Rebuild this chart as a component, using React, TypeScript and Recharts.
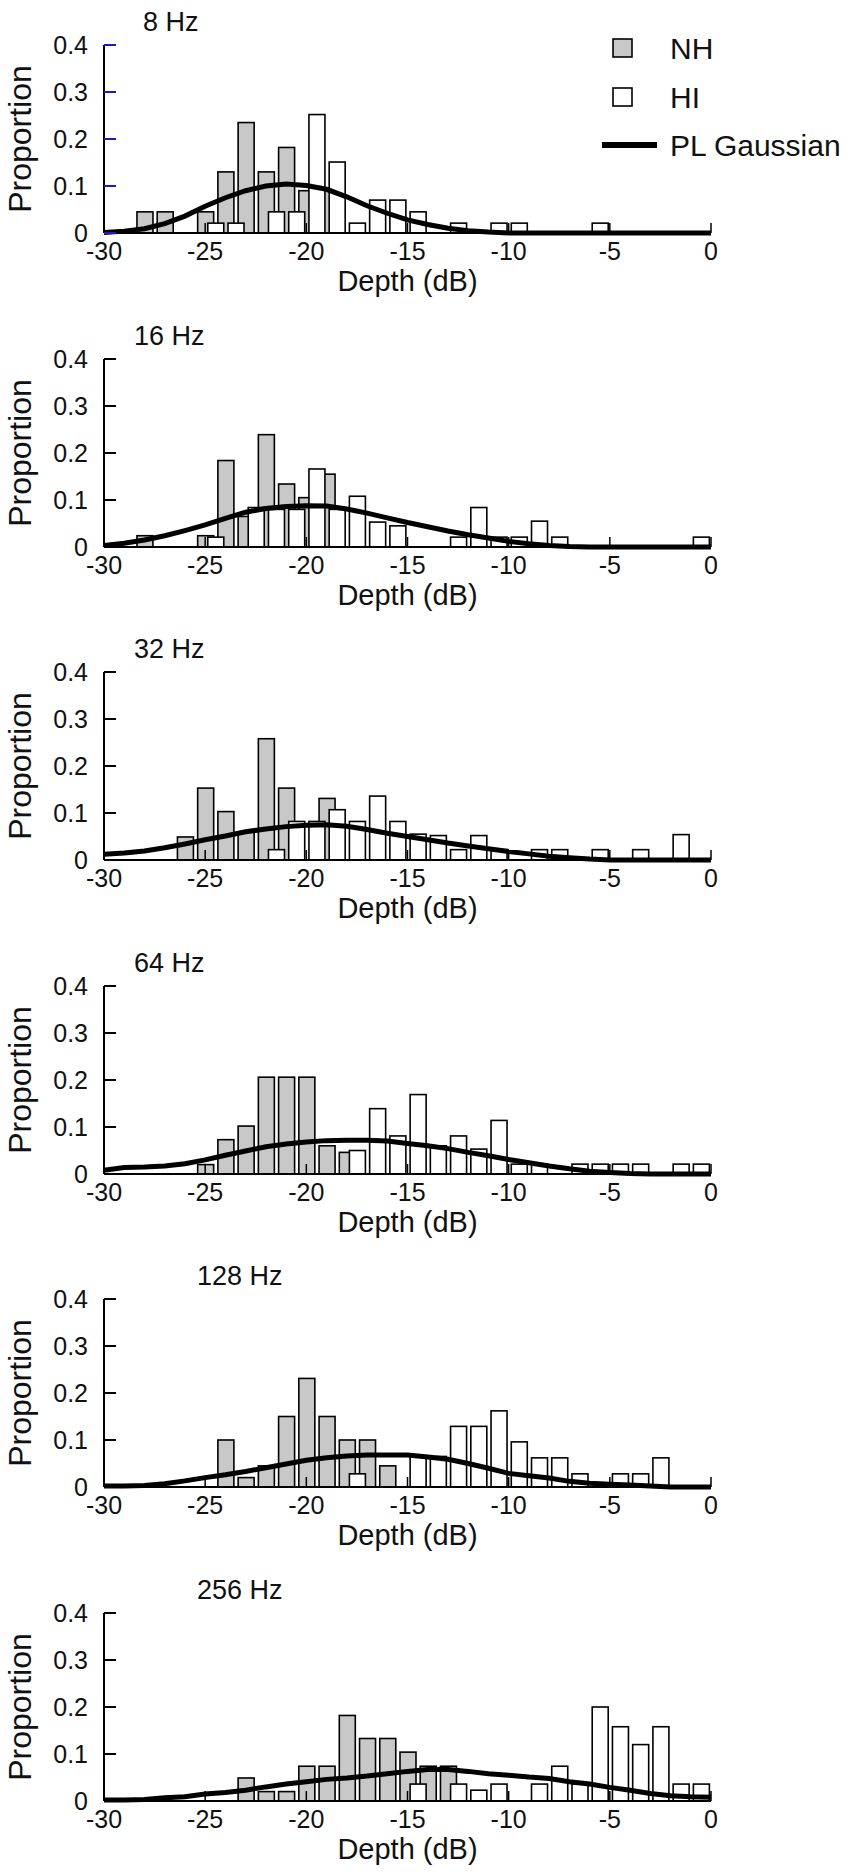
import { Bar, ComposedChart, Label, Line, XAxis, YAxis } from 'recharts'

type Pt = [number, number]
type Row = { x: number; nh?: number; hi?: number; fit?: number }

const FONT = '"Liberation Sans", Arial, sans-serif'
const W = 851
const H = 314
const STEP = 313.6
const BAR_W = 16

const depthTicks = [-30, -25, -20, -15, -10, -5, 0]
const propTicks = [0, 0.1, 0.2, 0.3, 0.4]
const rates = ['8 Hz', '16 Hz', '32 Hz', '64 Hz', '128 Hz', '256 Hz']
const titleX = [143, 134, 134, 134, 197, 197]

// 8 Hz
const nh8: Pt[] = [[-28, 0.045], [-27, 0.045], [-25, 0.045], [-24, 0.13], [-23, 0.235], [-22, 0.13], [-21, 0.182], [-20, 0.09], [-19, 0.09]]
const hi8: Pt[] = [[-24.5, 0.021], [-23.5, 0.021], [-21.5, 0.045], [-20.5, 0.045], [-19.5, 0.252], [-18.5, 0.151], [-17.5, 0.021], [-16.5, 0.07], [-15.5, 0.07], [-14.5, 0.045], [-12.5, 0.021], [-10.5, 0.021], [-9.5, 0.021], [-5.5, 0.021]]
const fit8: Pt[] = [[-30, 0.001], [-29, 0.004], [-28, 0.009], [-27, 0.02], [-26, 0.036], [-25, 0.057], [-24, 0.075], [-23, 0.09], [-22, 0.1], [-21, 0.104], [-20, 0.101], [-19, 0.093], [-18, 0.077], [-17, 0.058], [-16, 0.042], [-15, 0.028], [-14, 0.018], [-13, 0.01], [-12, 0.005], [-11, 0.002], [-10, 0], [-5, 0], [0, 0]]

// 16 Hz
const nh16: Pt[] = [[-28, 0.024], [-25, 0.024], [-24, 0.184], [-23, 0.065], [-22, 0.239], [-21, 0.134], [-20, 0.105], [-19, 0.155]]
const hi16: Pt[] = [[-24.5, 0.021], [-22.5, 0.084], [-21.5, 0.08], [-20.5, 0.08], [-19.5, 0.166], [-18.5, 0.08], [-17.5, 0.108], [-16.5, 0.053], [-15.5, 0.045], [-12.5, 0.021], [-11.5, 0.084], [-10.5, 0.021], [-9.5, 0.021], [-8.5, 0.055], [-7.5, 0.021], [-0.5, 0.021]]
const fit16: Pt[] = [[-30, 0.003], [-29, 0.008], [-28, 0.015], [-27, 0.024], [-26, 0.035], [-25, 0.047], [-24, 0.061], [-23, 0.074], [-22, 0.082], [-21, 0.086], [-20, 0.088], [-19, 0.087], [-18, 0.081], [-17, 0.072], [-16, 0.062], [-15, 0.052], [-14, 0.043], [-13, 0.034], [-12, 0.026], [-11, 0.019], [-10, 0.012], [-9, 0.007], [-8, 0.003], [-7, 0.001], [-6, 0], [0, 0]]

// 32 Hz
const nh32: Pt[] = [[-26, 0.049], [-25, 0.153], [-24, 0.103], [-23, 0.06], [-22, 0.258], [-21, 0.153], [-19, 0.131]]
const hi32: Pt[] = [[-21.5, 0.022], [-20.5, 0.082], [-19.5, 0.082], [-18.5, 0.107], [-17.5, 0.082], [-16.5, 0.136], [-15.5, 0.082], [-14.5, 0.055], [-13.5, 0.052], [-12.5, 0.022], [-11.5, 0.052], [-10.5, 0.022], [-8.5, 0.022], [-7.5, 0.022], [-5.5, 0.022], [-3.5, 0.022], [-1.5, 0.054]]
const fit32: Pt[] = [[-30, 0.012], [-29, 0.015], [-28, 0.019], [-27, 0.026], [-26, 0.034], [-25, 0.043], [-24, 0.051], [-23, 0.06], [-22, 0.066], [-21, 0.071], [-20, 0.074], [-19, 0.075], [-18, 0.072], [-17, 0.065], [-16, 0.057], [-15, 0.05], [-14, 0.043], [-13, 0.036], [-12, 0.03], [-11, 0.024], [-10, 0.018], [-9, 0.013], [-8, 0.008], [-7, 0.005], [-6, 0.002], [-5, 0], [0, 0]]

// 64 Hz
const nh64: Pt[] = [[-25, 0.02], [-24, 0.073], [-23, 0.102], [-22, 0.206], [-21, 0.206], [-20, 0.206], [-19, 0.06], [-18, 0.046]]
const hi64: Pt[] = [[-17.5, 0.05], [-16.5, 0.139], [-15.5, 0.081], [-14.5, 0.169], [-13.5, 0.06], [-12.5, 0.081], [-11.5, 0.053], [-10.5, 0.114], [-9.5, 0.021], [-8.5, 0.021], [-6.5, 0.021], [-5.5, 0.021], [-4.5, 0.021], [-3.5, 0.021], [-1.5, 0.021], [-0.5, 0.021]]
const fit64: Pt[] = [[-30, 0.008], [-29, 0.014], [-28, 0.015], [-27, 0.017], [-26, 0.022], [-25, 0.03], [-24, 0.04], [-23, 0.049], [-22, 0.058], [-21, 0.064], [-20, 0.068], [-19, 0.071], [-18, 0.072], [-17, 0.072], [-16, 0.07], [-15, 0.065], [-14, 0.06], [-13, 0.054], [-12, 0.046], [-11, 0.039], [-10, 0.031], [-9, 0.024], [-8, 0.017], [-7, 0.011], [-6, 0.006], [-5, 0.003], [-4, 0.001], [-3, 0], [0, 0]]

// 128 Hz
const nh128: Pt[] = [[-24, 0.1], [-23, 0.02], [-22, 0.045], [-21, 0.15], [-20, 0.231], [-19, 0.15], [-18, 0.1], [-17, 0.1], [-16, 0.045]]
const hi128: Pt[] = [[-17.5, 0.028], [-14.5, 0.065], [-13.5, 0.065], [-12.5, 0.129], [-11.5, 0.129], [-10.5, 0.162], [-9.5, 0.096], [-8.5, 0.062], [-7.5, 0.062], [-6.5, 0.028], [-4.5, 0.028], [-3.5, 0.028], [-2.5, 0.062]]
const fit128: Pt[] = [[-30, 0.002], [-29, 0.002], [-28, 0.003], [-27, 0.007], [-26, 0.013], [-25, 0.02], [-24, 0.026], [-23, 0.033], [-22, 0.041], [-21, 0.049], [-20, 0.057], [-19, 0.062], [-18, 0.066], [-17, 0.068], [-16, 0.068], [-15, 0.068], [-14, 0.064], [-13, 0.059], [-12, 0.05], [-11, 0.04], [-10, 0.029], [-9, 0.024], [-8, 0.019], [-7, 0.012], [-6, 0.008], [-5, 0.006], [-4, 0.004], [-3, 0.002], [-2, 0], [0, 0]]

// 256 Hz
const nh256: Pt[] = [[-23, 0.049], [-22, 0.02], [-21, 0.02], [-20, 0.074], [-19, 0.074], [-18, 0.182], [-17, 0.133], [-16, 0.133], [-15, 0.104], [-14, 0.074], [-13, 0.074]]
const hi256: Pt[] = [[-14.5, 0.036], [-12.5, 0.036], [-11.5, 0.023], [-10.5, 0.036], [-8.5, 0.036], [-7.5, 0.074], [-6.5, 0.036], [-5.5, 0.2], [-4.5, 0.158], [-3.5, 0.12], [-2.5, 0.158], [-1.5, 0.036], [-0.5, 0.036]]
const fit256: Pt[] = [[-30, 0.002], [-29, 0.002], [-28, 0.003], [-27, 0.007], [-26, 0.009], [-25, 0.015], [-24, 0.018], [-23, 0.023], [-22, 0.03], [-21, 0.036], [-20, 0.041], [-19, 0.046], [-18, 0.049], [-17, 0.053], [-16, 0.058], [-15, 0.063], [-14, 0.067], [-13, 0.067], [-12, 0.063], [-11, 0.058], [-10, 0.055], [-9, 0.051], [-8, 0.048], [-7, 0.041], [-6, 0.036], [-5, 0.029], [-4, 0.023], [-3, 0.016], [-2, 0.011], [-1, 0.009], [0, 0.008]]

const panels = [
  { nh: nh8, hi: hi8, fit: fit8 },
  { nh: nh16, hi: hi16, fit: fit16 },
  { nh: nh32, hi: hi32, fit: fit32 },
  { nh: nh64, hi: hi64, fit: fit64 },
  { nh: nh128, hi: hi128, fit: fit128 },
  { nh: nh256, hi: hi256, fit: fit256 },
]

function buildRows(nh: Pt[], hi: Pt[], fit: Pt[]): Row[] {
  const byX = new Map<number, Row>()
  const get = (x: number) => {
    let r = byX.get(x)
    if (!r) {
      r = { x }
      byX.set(x, r)
    }
    return r
  }
  nh.forEach(([x, v]) => (get(x).nh = v))
  hi.forEach(([x, v]) => (get(x).hi = v))
  fit.forEach(([x, v]) => (get(x).fit = v))
  return [...byX.values()].sort((a, b) => a.x - b.x)
}

// keep every box the same width, centred on its bin
function Box(props: any) {
  const { x, y, width, height, fill } = props
  if (!height || height <= 0) return null
  const cx = x + width / 2
  return <rect x={cx - BAR_W / 2} y={y} width={BAR_W} height={height} fill={fill} stroke="#000" strokeWidth={1.6} />
}

function Legend() {
  return (
    <g fontFamily={FONT} fontSize={30} fill="#111">
      <rect x={613} y={39} width={19} height={18} fill="#c8c8c8" stroke="#000" strokeWidth={1.6} />
      <text x={670} y={59}>NH</text>
      <rect x={613} y={88} width={19} height={18} fill="#fff" stroke="#000" strokeWidth={1.6} />
      <text x={670} y={108}>HI</text>
      <line x1={602} x2={657} y1={145} y2={145} stroke="#000" strokeWidth={6} />
      <text x={670} y={156}>PL Gaussian</text>
    </g>
  )
}

function Panel({ index }: { index: number }) {
  const p = panels[index]
  const rows = buildRows(p.nh, p.hi, p.fit)
  const tickColor = index === 0 ? '#1a1acc' : '#000'
  return (
    <div style={{ position: 'absolute', left: 0, top: index * STEP, width: W, height: H }}>
      <ComposedChart width={W} height={H} data={rows} margin={{ top: 45, right: 140, bottom: 0, left: 0 }}>
        <XAxis
          type="number"
          dataKey="x"
          domain={[-30, 0]}
          ticks={depthTicks}
          interval={0}
          height={81}
          tickSize={-10}
          tickMargin={19}
          axisLine={{ stroke: '#000', strokeWidth: 2 }}
          tickLine={{ stroke: '#000', strokeWidth: 1.5 }}
          tick={{ fontSize: 25, fill: '#111', fontFamily: FONT }}
        >
          <Label value="Depth (dB)" position="insideBottom" offset={23} style={{ fontSize: 29, fill: '#111', fontFamily: FONT }} />
        </XAxis>
        <YAxis
          type="number"
          domain={[0, 0.4]}
          ticks={propTicks}
          interval={0}
          width={104}
          tickSize={-12}
          tickMargin={28}
          axisLine={{ stroke: '#000', strokeWidth: 2 }}
          tickLine={{ stroke: tickColor, strokeWidth: 2 }}
          tick={{ fontSize: 25, fill: '#111', fontFamily: FONT }}
        >
          <Label
            value="Proportion"
            angle={-90}
            position="insideLeft"
            offset={20}
            style={{ fontSize: 32, fill: '#111', fontFamily: FONT, textAnchor: 'middle' }}
          />
        </YAxis>
        <Bar dataKey="nh" stackId="d" fill="#c8c8c8" barSize={BAR_W} shape={Box} isAnimationActive={false} />
        <Bar dataKey="hi" stackId="d" fill="#ffffff" barSize={BAR_W} shape={Box} isAnimationActive={false} />
        <Line type="linear" dataKey="fit" stroke="#000" strokeWidth={5} dot={false} connectNulls isAnimationActive={false} />
      </ComposedChart>
      <svg width={W} height={H} style={{ position: 'absolute', left: 0, top: 0, pointerEvents: 'none' }}>
        <text x={titleX[index]} y={31} fontFamily={FONT} fontSize={27} fill="#111">
          {rates[index]}
        </text>
        {index === 0 && <Legend />}
      </svg>
    </div>
  )
}

export default function App() {
  return (
    <div style={{ position: 'absolute', left: 0, top: 0, width: W, height: 1876, background: '#fff' }}>
      {rates.map((r, i) => (
        <Panel key={r} index={i} />
      ))}
    </div>
  )
}
